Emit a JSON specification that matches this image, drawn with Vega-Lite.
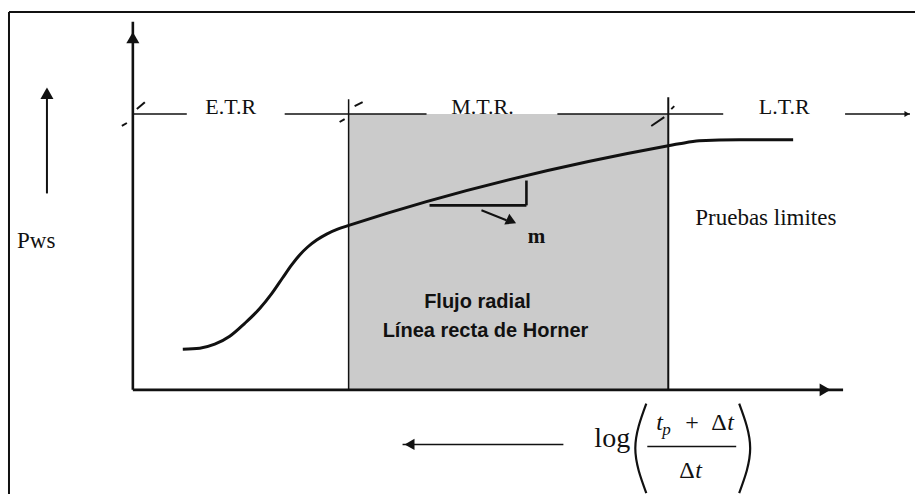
{
  "$schema": "https://vega.github.io/schema/vega-lite/v6.json",
  "width": 916,
  "height": 498,
  "autosize": {"type": "fit", "contains": "padding"},
  "padding": 0,
  "background": "white",
  "config": {"view": {"stroke": null}},
  "datasets": {
    "curve": [
      {"x": 50, "y": 41}, {"x": 67, "y": 42}, {"x": 82, "y": 46}, {"x": 97, "y": 54},
      {"x": 112, "y": 67}, {"x": 127, "y": 82}, {"x": 139, "y": 97}, {"x": 150, "y": 113},
      {"x": 159, "y": 126}, {"x": 167, "y": 136}, {"x": 175, "y": 144}, {"x": 184, "y": 151},
      {"x": 194, "y": 157}, {"x": 205, "y": 162}, {"x": 217, "y": 166}, {"x": 536, "y": 246},
      {"x": 547, "y": 248}, {"x": 567, "y": 251}, {"x": 607, "y": 252}, {"x": 661, "y": 252}
    ],
    "parens": [
      {"p": "L", "i": 1, "x": 514, "y": -14}, {"p": "L", "i": 2, "x": 503, "y": -59}, {"p": "L", "i": 3, "x": 514, "y": -104},
      {"p": "R", "i": 1, "x": 607, "y": -14}, {"p": "R", "i": 2, "x": 618, "y": -59}, {"p": "R", "i": 3, "x": 607, "y": -104}
    ]
  },
  "layer": [
    {
      "data": {"values": [{"x": 216, "x2": 536, "y": 0, "y2": 278}]},
      "mark": {"type": "rect", "color": "#cbcbcb"},
      "encoding": {
        "x": {"field": "x", "type": "quantitative", "scale": {"domain": [-133, 783], "nice": false, "zero": false}, "axis": null},
        "x2": {"field": "x2"},
        "y": {"field": "y", "type": "quantitative", "scale": {"domain": [-105, 393], "nice": false, "zero": false}, "axis": null},
        "y2": {"field": "y2"}
      }
    },
    {
      "data": {"values": [
        {"x": -124, "y": 381, "x2": 783, "y2": 381},
        {"x": -124, "y": 381, "x2": -124, "y2": -105}
      ]},
      "mark": {"type": "rule", "color": "#111", "strokeWidth": 2},
      "encoding": {
        "x": {"field": "x", "type": "quantitative", "axis": null}, "x2": {"field": "x2"},
        "y": {"field": "y", "type": "quantitative", "axis": null}, "y2": {"field": "y2"}
      }
    },
    {
      "data": {"values": [
        {"x": 0, "y": 278, "x2": 54, "y2": 278},
        {"x": 152, "y": 278, "x2": 294, "y2": 278},
        {"x": 425, "y": 278, "x2": 591, "y2": 278},
        {"x": 713, "y": 278, "x2": 778, "y2": 278},
        {"x": 216, "y": 0, "x2": 216, "y2": 293},
        {"x": 270, "y": -55, "x2": 431, "y2": -55},
        {"x": 515, "y": -57, "x2": 604, "y2": -57}
      ]},
      "mark": {"type": "rule", "color": "#111", "strokeWidth": 1.5},
      "encoding": {
        "x": {"field": "x", "type": "quantitative", "axis": null}, "x2": {"field": "x2"},
        "y": {"field": "y", "type": "quantitative", "axis": null}, "y2": {"field": "y2"}
      }
    },
    {
      "data": {"values": [
        {"x": 536, "y": 0, "x2": 536, "y2": 295},
        {"x": -86, "y": 198, "x2": -86, "y2": 300},
        {"x": 4, "y": 283, "x2": 12, "y2": 290},
        {"x": -11, "y": 266, "x2": -6, "y2": 269},
        {"x": 222, "y": 286, "x2": 230, "y2": 290},
        {"x": 207, "y": 270, "x2": 212, "y2": 273},
        {"x": 539, "y": 283, "x2": 542, "y2": 286},
        {"x": 519, "y": 266, "x2": 532, "y2": 275},
        {"x": 349, "y": 181, "x2": 374, "y2": 171}
      ]},
      "mark": {"type": "rule", "color": "#111", "strokeWidth": 2},
      "encoding": {
        "x": {"field": "x", "type": "quantitative", "axis": null}, "x2": {"field": "x2"},
        "y": {"field": "y", "type": "quantitative", "axis": null}, "y2": {"field": "y2"}
      }
    },
    {
      "data": {"values": [
        {"x": 0, "y": 0, "x2": 0, "y2": 371},
        {"x": 0, "y": 0, "x2": 711, "y2": 0},
        {"x": 297, "y": 186, "x2": 394, "y2": 186},
        {"x": 394, "y": 186, "x2": 394, "y2": 211}
      ]},
      "mark": {"type": "rule", "color": "#111", "strokeWidth": 2.6},
      "encoding": {
        "x": {"field": "x", "type": "quantitative", "axis": null}, "x2": {"field": "x2"},
        "y": {"field": "y", "type": "quantitative", "axis": null}, "y2": {"field": "y2"}
      }
    },
    {
      "data": {"name": "curve"},
      "mark": {"type": "line", "color": "#111", "strokeWidth": 3, "interpolate": "monotone"},
      "encoding": {
        "x": {"field": "x", "type": "quantitative", "axis": null},
        "y": {"field": "y", "type": "quantitative", "axis": null}
      }
    },
    {
      "data": {"name": "parens"},
      "mark": {"type": "line", "color": "#111", "strokeWidth": 2.2, "interpolate": "natural"},
      "encoding": {
        "x": {"field": "x", "type": "quantitative", "axis": null},
        "y": {"field": "y", "type": "quantitative", "axis": null},
        "detail": {"field": "p"},
        "order": {"field": "i"}
      }
    },
    {
      "data": {"values": [{"x": 0, "y": 355}, {"x": -86, "y": 299}]},
      "mark": {"type": "point", "shape": "triangle-up", "filled": true, "color": "#111", "opacity": 1, "size": 170},
      "encoding": {
        "x": {"field": "x", "type": "quantitative", "axis": null},
        "y": {"field": "y", "type": "quantitative", "axis": null}
      }
    },
    {
      "data": {"values": [{"x": 693, "y": 0}]},
      "mark": {"type": "point", "shape": "triangle-right", "filled": true, "color": "#111", "opacity": 1, "size": 160},
      "encoding": {
        "x": {"field": "x", "type": "quantitative", "axis": null},
        "y": {"field": "y", "type": "quantitative", "axis": null}
      }
    },
    {
      "data": {"values": [{"x": 775, "y": 278}]},
      "mark": {"type": "point", "shape": "triangle-right", "filled": true, "color": "#111", "opacity": 1, "size": 35},
      "encoding": {
        "x": {"field": "x", "type": "quantitative", "axis": null},
        "y": {"field": "y", "type": "quantitative", "axis": null}
      }
    },
    {
      "data": {"values": [{"x": 277, "y": -55}]},
      "mark": {"type": "point", "shape": "triangle-left", "filled": true, "color": "#111", "opacity": 1, "size": 130},
      "encoding": {
        "x": {"field": "x", "type": "quantitative", "axis": null},
        "y": {"field": "y", "type": "quantitative", "axis": null}
      }
    },
    {
      "data": {"values": [{"x": 379, "y": 170}]},
      "mark": {"type": "point", "shape": "triangle-right", "angle": 25, "filled": true, "color": "#111", "opacity": 1, "size": 140},
      "encoding": {
        "x": {"field": "x", "type": "quantitative", "axis": null},
        "y": {"field": "y", "type": "quantitative", "axis": null}
      }
    },
    {
      "data": {"values": [
        {"x": 98, "y": 278, "t": "E.T.R"},
        {"x": 350, "y": 278, "t": "M.T.R."},
        {"x": 652, "y": 278, "t": "L.T.R"}
      ]},
      "mark": {"type": "text", "font": "Liberation Serif", "fontSize": 22, "color": "#111", "align": "center", "baseline": "alphabetic"},
      "encoding": {
        "x": {"field": "x", "type": "quantitative", "axis": null},
        "y": {"field": "y", "type": "quantitative", "axis": null},
        "text": {"field": "t"}
      }
    },
    {
      "data": {"values": [
        {"x": -116, "y": 143, "t": "Pws"},
        {"x": 563, "y": 166, "t": "Pruebas limites"}
      ]},
      "mark": {"type": "text", "font": "Liberation Serif", "fontSize": 23, "color": "#111", "align": "left", "baseline": "alphabetic"},
      "encoding": {
        "x": {"field": "x", "type": "quantitative", "axis": null},
        "y": {"field": "y", "type": "quantitative", "axis": null},
        "text": {"field": "t"}
      }
    },
    {
      "data": {"values": [
        {"x": 345, "y": 83, "t": "Flujo radial"},
        {"x": 353, "y": 53, "t": "Línea recta de Horner"}
      ]},
      "mark": {"type": "text", "font": "Liberation Sans", "fontWeight": "bold", "fontSize": 20, "color": "#111", "align": "center", "baseline": "alphabetic"},
      "encoding": {
        "x": {"field": "x", "type": "quantitative", "axis": null},
        "y": {"field": "y", "type": "quantitative", "axis": null},
        "text": {"field": "t"}
      }
    },
    {
      "data": {"values": [{"x": 404, "y": 148, "t": "m"}]},
      "mark": {"type": "text", "font": "Liberation Serif", "fontWeight": "bold", "fontSize": 21, "color": "#111", "align": "center", "baseline": "alphabetic"},
      "encoding": {
        "x": {"field": "x", "type": "quantitative", "axis": null},
        "y": {"field": "y", "type": "quantitative", "axis": null},
        "text": {"field": "t"}
      }
    },
    {
      "data": {"values": [{"x": 462, "y": -58, "t": "log"}]},
      "mark": {"type": "text", "font": "Liberation Serif", "fontSize": 28, "color": "#111", "align": "left", "baseline": "alphabetic"},
      "encoding": {
        "x": {"field": "x", "type": "quantitative", "axis": null},
        "y": {"field": "y", "type": "quantitative", "axis": null},
        "text": {"field": "t"}
      }
    },
    {
      "data": {"values": [
        {"x": 553, "y": -40, "t": "+"},
        {"x": 579, "y": -40, "t": "Δ"},
        {"x": 547, "y": -89, "t": "Δ"}
      ]},
      "mark": {"type": "text", "font": "Liberation Serif", "fontSize": 24, "color": "#111", "align": "left", "baseline": "alphabetic"},
      "encoding": {
        "x": {"field": "x", "type": "quantitative", "axis": null},
        "y": {"field": "y", "type": "quantitative", "axis": null},
        "text": {"field": "t"}
      }
    },
    {
      "data": {"values": [
        {"x": 524, "y": -40, "t": "t"},
        {"x": 595, "y": -40, "t": "t"},
        {"x": 563, "y": -89, "t": "t"}
      ]},
      "mark": {"type": "text", "font": "Liberation Serif", "fontStyle": "italic", "fontSize": 24, "color": "#111", "align": "left", "baseline": "alphabetic"},
      "encoding": {
        "x": {"field": "x", "type": "quantitative", "axis": null},
        "y": {"field": "y", "type": "quantitative", "axis": null},
        "text": {"field": "t"}
      }
    },
    {
      "data": {"values": [{"x": 530, "y": -46, "t": "p"}]},
      "mark": {"type": "text", "font": "Liberation Serif", "fontStyle": "italic", "fontSize": 17, "color": "#111", "align": "left", "baseline": "alphabetic"},
      "encoding": {
        "x": {"field": "x", "type": "quantitative", "axis": null},
        "y": {"field": "y", "type": "quantitative", "axis": null},
        "text": {"field": "t"}
      }
    }
  ]
}
